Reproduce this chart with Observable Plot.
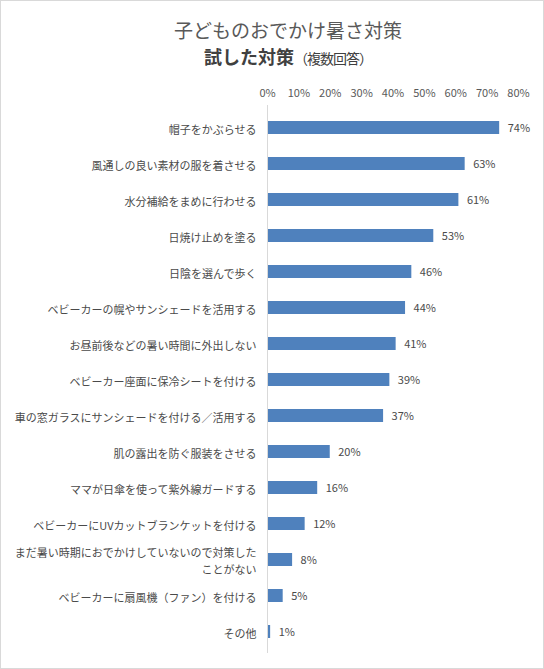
<!DOCTYPE html>
<html>
<head>
<meta charset="utf-8">
<script src="https://cdn.jsdelivr.net/npm/d3@7"></script>
<script src="https://cdn.jsdelivr.net/npm/@observablehq/plot@0.6"></script>
<style>
  body { margin: 0; background: #fff; font-family: "Noto Sans CJK JP", sans-serif; }
  #chart { width: 542px; height: 667px; border: 1px solid #d9d9d9; overflow: hidden; }
  .title { box-sizing: border-box; height: 69px; padding-top: 15px; padding-left: 32px; text-align: center; }
  .title .t1 { font-size: 19px; color: #595959; line-height: 27px; }
  .title .t2 { font-size: 18px; font-weight: bold; color: #404040; line-height: 27px; }
  .title .t2 small { font-size: 14px; font-weight: normal; letter-spacing: -1px; }
  svg { display: block; }
</style>
</head>
<body>
<div id="chart">
  <div class="title">
    <div class="t1">子どものおでかけ暑さ対策</div>
    <div class="t2">試した対策<small>（複数回答）</small></div>
  </div>
</div>
<script>
// 試した対策（複数回答）
const categories = [
  '帽子をかぶらせる',
  '風通しの良い素材の服を着させる',
  '水分補給をまめに行わせる',
  '日焼け止めを塗る',
  '日陰を選んで歩く',
  'ベビーカーの幌やサンシェードを活用する',
  'お昼前後などの暑い時間に外出しない',
  'ベビーカー座面に保冷シートを付ける',
  '車の窓ガラスにサンシェードを付ける／活用する',
  '肌の露出を防ぐ服装をさせる',
  'ママが日傘を使って紫外線ガードする',
  'ベビーカーにUVカットブランケットを付ける',
  'まだ暑い時期におでかけしていないので対策した\nことがない',
  'ベビーカーに扇風機（ファン）を付ける',
  'その他'
]
const values = [0.74, 0.63, 0.61, 0.53, 0.46, 0.44, 0.41, 0.39, 0.37, 0.20, 0.16, 0.12, 0.08, 0.05, 0.01]
const xTicks = [0, 0.1, 0.2, 0.3, 0.4, 0.5, 0.6, 0.7, 0.8]

const data = categories.map((c, i) => ({ label: c, value: values[i] }))

const chart = Plot.plot({
  width: 542,
  height: 598,
  marginTop: 35,
  marginBottom: 15,
  marginLeft: 266,
  marginRight: 25,
  style: { fontFamily: '"Noto Sans CJK JP", sans-serif', color: '#404040' },
  x: { domain: [0, 0.8], ticks: xTicks },
  y: { domain: categories, paddingInner: 0.64, paddingOuter: 0.32 },
  marks: [
    Plot.axisX({
      anchor: 'top', ticks: xTicks, tickSize: 0, tickPadding: 9,
      tickFormat: d3.format('.0%'), fontSize: 11, fill: '#595959', label: null
    }),
    Plot.axisY({
      tickSize: 0, tickPadding: 11, fontSize: 11, fill: '#4a4a4a',
      lineHeight: 1.6, label: null
    }),
    Plot.barX(data, { x: 'value', y: 'label', fill: '#4f81bd' }),
    Plot.ruleX([0], { stroke: '#d9d9d9' }),
    Plot.text(data, {
      x: 'value', y: 'label', text: d => d3.format('.0%')(d.value),
      dx: 8, textAnchor: 'start', fontSize: 11, fill: '#4a4a4a'
    })
  ]
})

document.getElementById('chart').append(chart)
</script>
</body>
</html>
